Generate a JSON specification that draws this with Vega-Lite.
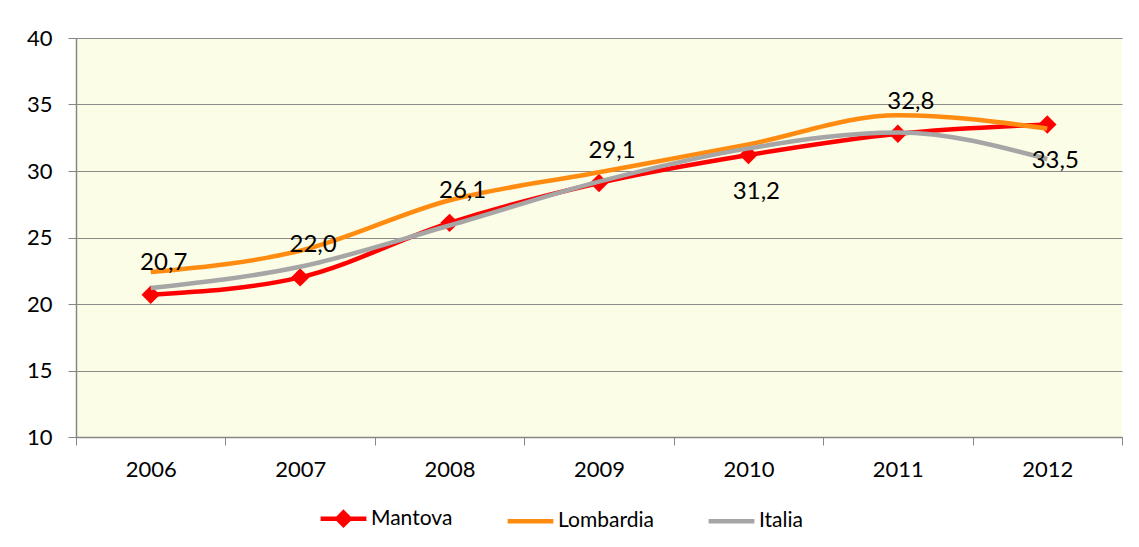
{
  "$schema": "https://vega.github.io/schema/vega-lite/v6.json",
  "width": 1046,
  "height": 399,
  "padding": {"left": 26, "top": 27, "right": 17, "bottom": 8},
  "background": "white",
  "config": {
    "font": "Lato",
    "locale": {"number": {"decimal": ",", "thousands": ".", "grouping": [3], "currency": ["€", ""]}},
    "view": {"fill": "#FCFDE6", "stroke": null},
    "axis": {"labelFont": "Lato", "labelFontSize": 22, "labelColor": "#000000", "domainColor": "#868686", "tickColor": "#868686", "tickSize": 8, "title": null}
  },
  "data": {"values": [
    {"year": "2006", "series": "Mantova", "value": 20.7},
    {"year": "2007", "series": "Mantova", "value": 22.0},
    {"year": "2008", "series": "Mantova", "value": 26.1},
    {"year": "2009", "series": "Mantova", "value": 29.1},
    {"year": "2010", "series": "Mantova", "value": 31.2},
    {"year": "2011", "series": "Mantova", "value": 32.8},
    {"year": "2012", "series": "Mantova", "value": 33.5},
    {"year": "2006", "series": "Lombardia", "value": 22.4},
    {"year": "2007", "series": "Lombardia", "value": 24.0},
    {"year": "2008", "series": "Lombardia", "value": 27.8},
    {"year": "2009", "series": "Lombardia", "value": 29.9},
    {"year": "2010", "series": "Lombardia", "value": 32.0},
    {"year": "2011", "series": "Lombardia", "value": 34.2},
    {"year": "2012", "series": "Lombardia", "value": 33.2},
    {"year": "2006", "series": "Italia", "value": 21.2},
    {"year": "2007", "series": "Italia", "value": 22.8},
    {"year": "2008", "series": "Italia", "value": 25.9},
    {"year": "2009", "series": "Italia", "value": 29.2},
    {"year": "2010", "series": "Italia", "value": 31.7},
    {"year": "2011", "series": "Italia", "value": 32.9},
    {"year": "2012", "series": "Italia", "value": 30.9}
  ]},
  "encoding": {
    "x": {"field": "year", "type": "ordinal", "bandPosition": 0.5,
      "scale": {"type": "band", "paddingInner": 0, "paddingOuter": 0},
      "axis": {"labelAngle": 0, "tickBand": "extent", "labelPadding": 14, "grid": false, "domainWidth": 1.5}},
    "y": {"field": "value", "type": "quantitative",
      "scale": {"domain": [10, 40], "nice": false, "zero": false},
      "axis": {"values": [10, 15, 20, 25, 30, 35, 40], "grid": true, "gridColor": "#8C8C8C", "gridWidth": 1, "labelPadding": 16, "domainWidth": 1.5}}
  },
  "layer": [
    {
      "transform": [{"filter": "datum.series === 'Mantova'"}],
      "mark": {"type": "line", "interpolate": "monotone", "strokeWidth": 4.5,
        "point": {"shape": "diamond", "size": 340, "filled": true, "opacity": 1}},
      "encoding": {
        "color": {"field": "series", "type": "nominal",
          "scale": {"domain": ["Mantova", "Lombardia", "Italia"], "range": ["#FF0000", "#FF8C10", "#A6A6A6"]},
          "legend": {"orient": "none", "legendX": 242, "legendY": 455, "direction": "horizontal", "title": null,
            "labelFontSize": 21, "labelFont": "Lato", "labelColor": "#000000",
            "symbolSize": 2100, "symbolStrokeWidth": 4.5, "columnPadding": 45, "labelOffset": 2,
            "encode": {"symbols": {"update": {
              "shape": {"signal": "datum.value === 'Mantova' ? 'M-1,0H1M0,-0.27L0.27,0L0,0.27L-0.27,0Z' : 'stroke'"},
              "fill": {"signal": "datum.value === 'Mantova' ? '#FF0000' : 'transparent'"}
            }}}}
        }
      }
    },
    {
      "transform": [{"filter": "datum.series !== 'Mantova'"}],
      "mark": {"type": "line", "interpolate": "monotone", "strokeWidth": 4.5},
      "encoding": {"color": {"field": "series", "type": "nominal"}}
    },
    {
      "transform": [{"filter": "datum.series === 'Mantova' && datum.year !== '2010' && datum.year !== '2012'"}],
      "mark": {"type": "text", "font": "Lato", "fontSize": 24, "color": "#000000", "dx": 13, "dy": -32},
      "encoding": {"text": {"field": "value", "type": "quantitative", "format": ".1f"}}
    },
    {
      "transform": [{"filter": "datum.series === 'Mantova' && (datum.year === '2010' || datum.year === '2012')"}],
      "mark": {"type": "text", "font": "Lato", "fontSize": 24, "color": "#000000", "dx": 8, "dy": 37},
      "encoding": {"text": {"field": "value", "type": "quantitative", "format": ".1f"}}
    }
  ]
}
